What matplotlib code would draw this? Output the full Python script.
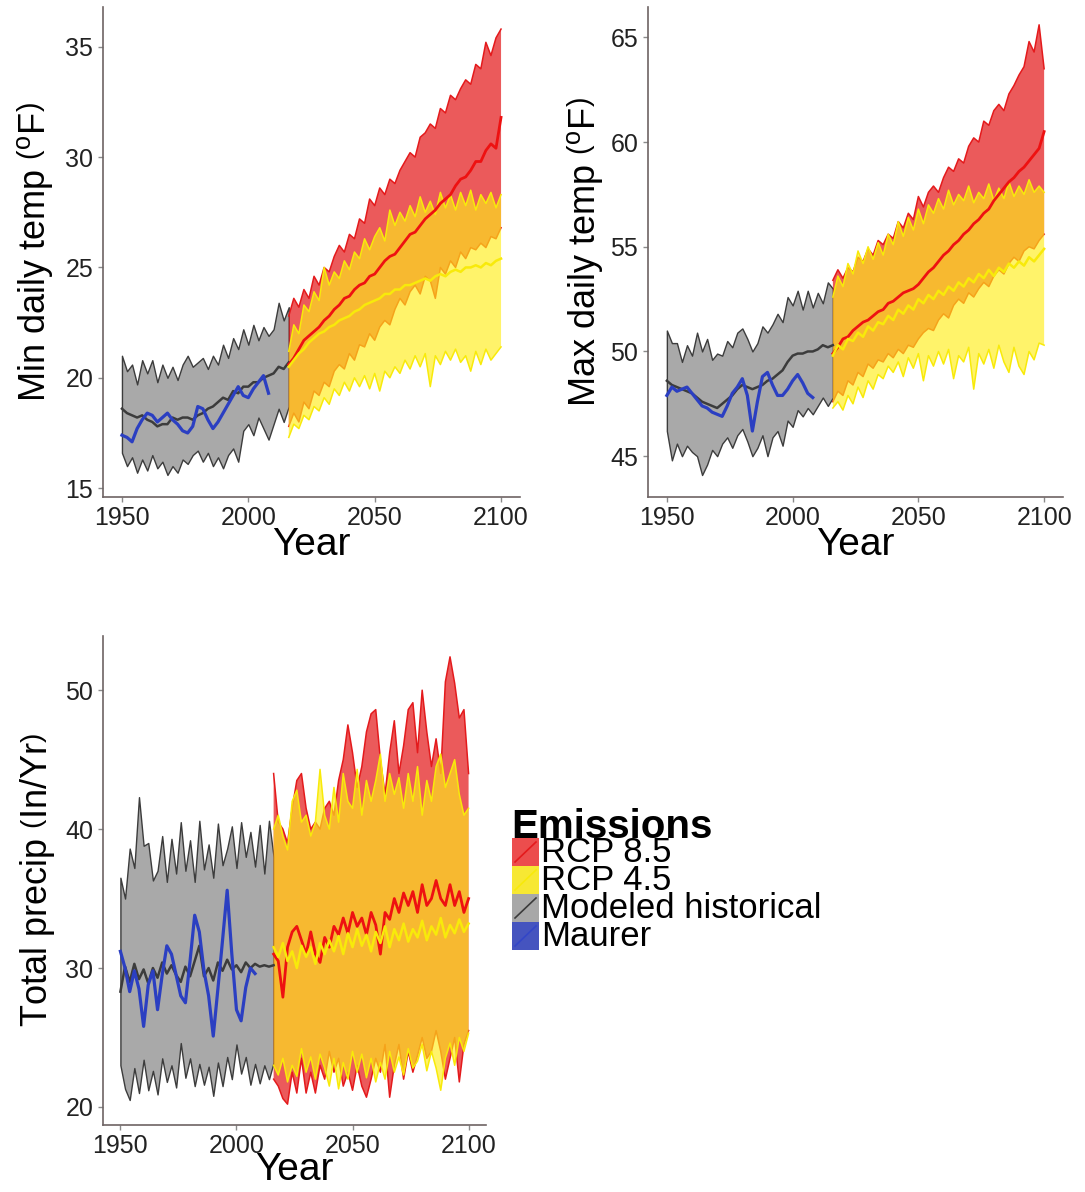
import matplotlib
matplotlib.use('Agg')
import matplotlib.pyplot as plt
import numpy as np
from matplotlib.patches import Rectangle
from matplotlib.lines import Line2D

plt.rcParams['font.family'] = ['Liberation Sans', 'DejaVu Sans']
plt.rcParams['mathtext.fontset'] = 'custom'
plt.rcParams['mathtext.rm'] = 'Liberation Sans'
plt.rcParams['mathtext.it'] = 'Liberation Sans:italic'
plt.rcParams['mathtext.bf'] = 'Liberation Sans:bold'

# ---------------- data ----------------
hist_years = list(range(1950, 2017, 2))
maurer_years = list(range(1950, 2009, 2))
fut_years = list(range(2016, 2101, 2))

# Min daily temp
tmin_hist_lo = [16.6, 16.0, 16.4, 15.7, 16.3, 15.8, 16.5, 15.9, 16.2, 15.6, 16.0, 15.7, 16.3, 16.1, 16.5, 16.7, 16.2,
                16.6, 16.0, 16.4, 15.9, 16.5, 16.8, 16.2, 17.6, 17.9, 17.4, 18.2, 17.7, 17.2, 17.9, 18.6, 18.0, 18.7]
tmin_hist_mid = [18.6, 18.4, 18.3, 18.2, 18.3, 18.1, 18.0, 17.8, 17.9, 17.9, 18.2, 18.1, 18.2, 18.2, 18.1, 18.3, 18.4,
                 18.6, 18.7, 18.9, 19.1, 19.0, 19.4, 19.3, 19.6, 19.6, 19.8, 19.8, 20.0, 20.1, 20.2, 20.5, 20.4, 20.7]
tmin_hist_hi = [21.0, 20.3, 20.6, 19.7, 20.8, 20.2, 20.8, 19.8, 20.6, 20.0, 20.5, 19.9, 20.6, 21.0, 20.5, 20.7, 20.9,
                20.4, 21.0, 20.6, 21.5, 20.9, 21.8, 21.3, 22.2, 21.5, 22.4, 21.7, 22.3, 21.9, 22.2, 23.4, 22.6, 23.2]
tmin_maurer = [17.4, 17.3, 17.1, 17.7, 18.1, 18.4, 18.3, 18.0, 18.2, 18.4, 18.1, 17.9, 17.6, 17.5, 17.8, 18.7, 18.6,
               18.1, 17.7, 18.0, 18.4, 18.8, 19.2, 19.6, 19.2, 19.1, 19.5, 19.8, 20.1, 19.3]
tmin_85_lo = [17.8, 18.4, 18.0, 18.9, 18.6, 19.4, 19.2, 19.8, 19.6, 20.3, 20.6, 20.4, 21.1, 20.8, 21.5, 21.4, 22.0,
              21.7, 22.3, 22.6, 22.4, 23.1, 23.6, 23.3, 23.9, 24.2, 23.8, 24.6, 24.4, 23.6, 25.0, 24.7, 25.3, 25.0,
              25.7, 25.4, 25.9, 25.8, 26.1, 25.9, 26.4, 26.3, 26.8]
tmin_85_mid = [20.6, 20.9, 21.3, 21.7, 21.9, 22.1, 22.3, 22.6, 22.8, 23.1, 23.3, 23.6, 23.7, 24.0, 24.2, 24.3, 24.6,
               24.7, 25.0, 25.3, 25.5, 25.6, 25.9, 26.2, 26.5, 26.6, 26.9, 27.2, 27.4, 27.6, 27.9, 28.1, 28.3, 28.7,
               29.0, 29.1, 29.4, 29.8, 29.8, 30.3, 30.6, 30.4, 31.8]
tmin_85_hi = [22.8, 23.6, 23.2, 24.0, 23.6, 24.6, 24.2, 25.0, 24.8, 25.5, 26.0, 25.7, 26.5, 26.3, 27.2, 27.0, 28.1,
              27.8, 28.6, 28.3, 29.0, 28.8, 29.4, 29.8, 30.2, 30.0, 30.9, 31.1, 31.5, 31.3, 32.2, 32.0, 32.8, 32.6,
              33.1, 33.5, 33.3, 34.2, 34.0, 35.2, 34.6, 35.4, 35.8]
tmin_45_lo = [17.3, 17.9, 17.7, 18.3, 18.1, 18.7, 18.5, 19.1, 18.8, 19.5, 19.2, 19.8, 19.4, 20.0, 19.6, 20.1, 19.5,
              20.2, 19.4, 20.3, 20.0, 20.5, 20.2, 20.8, 20.4, 21.0, 20.5, 21.1, 19.6, 21.0, 20.6, 21.2, 20.8, 21.3,
              20.7, 21.0, 20.3, 21.2, 20.6, 21.3, 20.8, 21.1, 21.4]
tmin_45_mid = [20.5, 20.8, 21.1, 21.3, 21.6, 21.8, 22.0, 22.1, 22.3, 22.4, 22.6, 22.7, 22.8, 23.0, 23.1, 23.3, 23.4,
               23.5, 23.6, 23.8, 23.8, 24.0, 24.0, 24.2, 24.2, 24.3, 24.4, 24.5, 24.4, 24.6, 24.7, 24.6, 24.8, 24.9,
               24.8, 25.0, 25.0, 25.1, 25.0, 25.2, 25.1, 25.3, 25.4]
tmin_45_hi = [21.2, 22.4, 22.0, 23.3, 23.0, 23.9, 23.5, 25.0, 24.2, 24.8, 24.5, 25.3, 24.9, 25.7, 25.4, 26.3, 25.8,
              26.4, 26.8, 26.2, 27.6, 26.9, 27.5, 27.1, 27.8, 27.3, 28.2, 27.5, 28.0, 27.4, 28.4, 27.7, 28.3, 27.6,
              28.4, 27.8, 28.5, 27.6, 28.3, 27.9, 28.4, 27.7, 28.3]

# Max daily temp
tmax_hist_lo = [46.2, 44.8, 45.6, 45.0, 45.5, 45.2, 45.0, 44.1, 44.6, 45.3, 45.0, 45.6, 45.9, 45.4, 46.0, 46.3, 45.7,
                45.0, 45.4, 46.0, 45.0, 45.9, 46.2, 45.5, 46.7, 46.4, 47.2, 46.9, 47.3, 47.0, 47.4, 47.8, 47.4, 47.8]
tmax_hist_mid = [48.6, 48.4, 48.3, 48.2, 48.1, 48.0, 47.8, 47.6, 47.5, 47.4, 47.3, 47.5, 47.7, 47.9, 48.2, 48.4, 48.3,
                 48.2, 48.3, 48.4, 48.6, 48.7, 48.9, 49.1, 49.5, 49.8, 49.9, 49.9, 50.0, 50.0, 50.1, 50.3, 50.2, 50.3]
tmax_hist_hi = [51.0, 50.4, 50.4, 49.5, 50.3, 49.8, 50.9, 50.0, 50.6, 49.6, 49.9, 49.8, 50.5, 50.2, 50.9, 51.1, 50.6,
                50.0, 50.4, 51.2, 50.9, 51.3, 51.8, 51.4, 52.6, 52.2, 52.9, 52.0, 52.9, 52.1, 52.8, 52.3, 53.3, 53.0]
tmax_maurer = [47.9, 48.3, 48.1, 48.2, 48.3, 48.0, 47.7, 47.4, 47.3, 47.1, 47.0, 46.9, 47.4, 48.0, 48.3, 48.7, 47.9,
               46.2, 47.6, 48.8, 49.0, 48.4, 47.9, 47.9, 48.2, 48.6, 48.9, 48.5, 48.0, 47.8]
tmax_85_lo = [47.6, 48.1, 47.9, 48.6, 48.4, 49.0, 48.8, 49.4, 49.2, 49.6, 49.5, 49.9, 49.7, 50.1, 49.9, 50.3, 50.2,
              50.6, 50.9, 51.1, 51.0, 51.5, 51.8, 51.6, 52.2, 52.5, 52.3, 52.8, 52.6, 53.0, 53.3, 53.1, 53.6, 53.9,
              53.7, 54.2, 54.5, 54.3, 54.8, 55.0, 54.9, 55.3, 55.6]
tmax_85_mid = [49.9, 50.2, 50.6, 50.7, 51.0, 51.2, 51.4, 51.5, 51.7, 51.9, 52.0, 52.3, 52.4, 52.6, 52.8, 52.9, 53.0,
               53.2, 53.5, 53.8, 54.0, 54.3, 54.6, 54.8, 55.1, 55.3, 55.6, 55.8, 56.1, 56.3, 56.6, 56.8, 57.2, 57.5,
               57.8, 58.1, 58.3, 58.6, 58.8, 59.1, 59.4, 59.7, 60.5]
tmax_85_hi = [53.4, 53.9, 53.5, 54.0, 53.8, 54.5, 54.3, 54.9, 54.6, 55.3, 55.1, 55.6, 55.4, 56.2, 55.9, 56.6, 56.3,
              57.4, 56.9, 57.6, 57.9, 57.6, 58.3, 58.8, 58.6, 59.2, 59.0, 59.8, 60.2, 60.0, 61.0, 60.8, 61.5, 61.8,
              61.5, 62.3, 62.7, 63.2, 63.6, 64.8, 64.3, 65.6, 63.5]
tmax_45_lo = [47.3, 47.6, 47.2, 47.9, 47.5, 48.3, 47.8, 48.6, 48.2, 48.9, 48.7, 49.3, 49.0, 49.5, 48.8, 49.7, 49.2,
              49.9, 48.6, 49.8, 49.3, 50.0, 49.4, 50.1, 48.7, 49.8, 49.5, 50.2, 48.2, 49.9, 49.4, 50.1, 49.2, 50.3,
              49.5, 49.0, 50.2, 49.3, 48.9, 50.0, 49.6, 50.4, 50.3]
tmax_45_mid = [49.8, 50.3, 50.1, 50.6, 50.5, 50.9, 50.7, 51.2, 51.0, 51.4, 51.3, 51.7, 51.5, 52.0, 51.8, 52.2, 52.0,
               52.5, 52.3, 52.7, 52.5, 52.9, 52.7, 53.1, 52.9, 53.3, 53.1, 53.5, 53.3, 53.7, 53.5, 53.9, 53.6, 54.0,
               53.8, 54.2, 54.0, 54.3, 54.1, 54.5, 54.3, 54.6, 54.9]
tmax_45_hi = [52.6, 53.6, 53.1, 54.2, 53.7, 54.8, 54.2, 55.0, 54.4, 55.2, 54.6, 55.6, 55.1, 56.2, 55.5, 56.4, 55.8,
              56.8, 56.1, 57.0, 56.6, 57.3, 56.8, 57.7, 57.0, 57.5, 57.2, 57.9, 57.1, 57.6, 57.3, 58.0, 57.2, 57.8,
              57.3, 58.1, 57.4, 57.9, 57.5, 58.2, 57.6, 57.9, 57.6]

# Total precip
pr_hist_lo = [23.0, 21.3, 20.5, 22.8, 21.0, 23.4, 21.2, 22.6, 20.9, 23.5, 21.8, 23.0, 21.4, 24.6, 22.1, 23.5, 21.5,
              23.1, 21.6, 22.9, 20.8, 23.2, 21.5, 23.6, 22.0, 24.5, 22.4, 23.6, 21.6, 23.1, 21.7, 23.0, 22.0, 23.2]
pr_hist_mid = [28.3, 30.1, 29.0, 30.3, 29.2, 29.9, 28.9, 30.0, 29.3, 30.4, 29.6, 30.2, 29.5, 29.0, 30.1, 29.4, 30.5,
               31.6, 29.4, 30.0, 29.1, 30.4, 29.8, 30.6, 29.9, 30.2, 29.7, 30.4, 30.0, 30.3, 30.1, 30.2, 30.1, 30.2]
pr_hist_hi = [36.5, 35.0, 38.6, 37.2, 42.3, 38.8, 39.0, 36.3, 37.0, 39.5, 36.2, 39.3, 36.8, 40.5, 37.0, 39.2, 36.2,
              40.6, 37.1, 38.9, 36.5, 40.4, 37.4, 38.6, 40.2, 37.2, 40.5, 38.0, 39.8, 37.3, 40.3, 36.8, 40.6, 38.0]
pr_maurer = [31.2, 30.0, 28.3, 29.8, 28.5, 25.8, 28.8, 29.8, 27.0, 29.5, 31.6, 31.0, 29.5, 28.0, 27.5, 30.5, 33.8,
             32.6, 29.8, 28.0, 25.1, 28.5, 32.0, 35.6, 31.0, 27.0, 26.2, 28.6, 30.0, 29.6]
pr_85_lo = [22.0, 21.5, 20.6, 20.2, 22.5, 21.0, 23.5, 21.0, 22.5, 21.0, 23.0, 22.0, 24.0, 22.5, 23.5, 21.5, 22.5,
            21.2, 23.0, 21.5, 20.7, 22.0, 23.5, 22.5, 24.5, 20.7, 23.0, 24.5, 22.0, 24.0, 22.5, 23.7, 25.0, 23.5,
            24.0, 25.5, 24.0, 22.0, 23.5, 25.0, 21.8, 24.5, 25.5]
pr_85_mid = [31.0, 30.5, 27.9, 31.5, 32.6, 33.0, 32.0, 31.0, 32.6, 31.0, 30.4, 32.2, 31.5, 33.0, 32.4, 33.6, 32.5,
             34.0, 33.0, 33.6, 32.4, 34.0, 33.1, 31.0, 34.0, 33.5, 35.0, 34.0, 35.4, 34.5, 35.5, 34.0, 36.0, 34.5,
             35.0, 36.3, 35.0, 34.5, 36.0, 34.5, 35.5, 34.0, 35.0]
pr_85_hi = [44.0, 40.5, 40.0, 39.0, 41.5, 43.5, 44.0, 41.5, 40.0, 40.5, 40.0, 41.5, 42.0, 41.0, 43.5, 45.0, 47.5,
            45.5, 43.0, 44.5, 47.0, 48.3, 48.6, 45.0, 42.5, 45.5, 47.8, 44.0, 46.0, 48.6, 49.1, 45.5, 50.0, 47.0,
            44.5, 46.5, 44.0, 50.6, 52.4, 50.5, 48.0, 48.6, 44.0]
pr_45_lo = [23.0, 22.3, 23.5, 21.8, 23.0, 22.2, 24.2, 22.5, 23.6, 22.0, 23.8, 22.8, 21.5, 23.5, 21.3, 23.2, 22.0,
            24.0, 22.5, 23.8, 22.1, 23.5, 21.8, 23.2, 22.0, 24.0, 22.5, 23.6, 22.3, 24.2, 22.8, 23.3, 24.5, 22.6,
            24.0, 22.8, 21.2, 23.5, 24.6, 23.0, 25.0, 24.0, 25.3]
pr_45_mid = [31.5, 30.8, 31.8, 30.5, 31.2, 30.0, 31.6, 30.8, 31.5, 30.3, 31.8, 31.0, 32.0, 31.2, 32.3, 31.0, 32.5,
             31.5, 32.8, 31.6, 32.4, 31.2, 32.6, 31.8, 33.0, 31.5, 32.8, 32.0, 33.2, 31.9, 32.8, 32.2, 33.4, 32.0,
             33.0, 32.4, 33.6, 32.2, 33.1, 32.5, 33.5, 32.6, 33.2]
pr_45_hi = [40.0, 41.0, 39.5, 38.5, 42.0, 42.8, 40.5, 41.0, 39.5, 40.5, 44.3, 41.0, 40.0, 43.0, 40.5, 44.0, 42.0,
            41.5, 44.3, 41.0, 43.5, 42.0, 43.5, 45.4, 42.0, 44.0, 42.5, 43.7, 41.5, 44.0, 42.0, 44.5, 41.0, 43.5,
            42.0, 44.5, 45.4, 43.0, 44.0, 45.0, 42.5, 41.0, 41.5]

x_ticks = [1950, 2000, 2050, 2100]
legend_labels = ['RCP 8.5', 'RCP 4.5', 'Modeled historical', 'Maurer']
legend_title = 'Emissions'

# ---------------- styling ----------------
W, H = 1085, 1192
RED = '#E41A1C'
YEL = '#FFED1A'
YEL_LINE = '#F8EA0A'
GRAY_FILL = '#A9A9A9'
GRAY_LINE = '#3C3C3C'
BLUE = '#2B3FC2'
SPINE = '#6E6464'

fig = plt.figure(figsize=(W / 100, H / 100), dpi=100)
fig.patch.set_facecolor('white')


def ax_at(l, r, t, b):
    return fig.add_axes([l / W, 1 - b / H, (r - l) / W, (b - t) / H])


def panel(ax, ylim, yticks, ylabel, ylab_x, xlab_y, d):
    (h_lo, h_mid, h_hi, maurer, r85_lo, r85_mid, r85_hi, r45_lo, r45_mid, r45_hi) = d
    ax.fill_between(hist_years, h_lo, h_hi, facecolor=GRAY_FILL, edgecolor=GRAY_LINE, linewidth=1.0, zorder=1)
    ax.fill_between(fut_years, r85_lo, r85_hi, facecolor=RED, alpha=0.72, edgecolor='none', zorder=2)
    ax.plot(fut_years, r85_hi, color=RED, lw=1.1, zorder=2.1)
    ax.plot(fut_years, r85_lo, color=RED, lw=1.1, zorder=2.1)
    ax.fill_between(fut_years, r45_lo, r45_hi, facecolor=YEL, alpha=0.65, edgecolor='none', zorder=3)
    ax.plot(fut_years, r45_hi, color=YEL_LINE, lw=1.1, zorder=3.1)
    ax.plot(fut_years, r45_lo, color=YEL_LINE, lw=1.1, zorder=3.1)
    ax.plot(hist_years, h_mid, color=GRAY_LINE, lw=1.8, zorder=4)
    ax.plot(maurer_years, maurer, color=BLUE, lw=2.3, zorder=5)
    ax.plot(fut_years, r85_mid, color='#EE1111', lw=2.0, zorder=5)
    ax.plot(fut_years, r45_mid, color=YEL_LINE, lw=1.8, zorder=5.1)

    ax.set_xlim(1942.5, 2107.5)
    ax.set_ylim(*ylim)
    ax.set_xticks(x_ticks)
    ax.set_yticks(yticks)
    for s in ['top', 'right']:
        ax.spines[s].set_visible(False)
    for s in ['left', 'bottom']:
        ax.spines[s].set_color(SPINE)
        ax.spines[s].set_linewidth(1.2)
    ax.tick_params(axis='both', direction='out', length=3.5, width=1, color='#8a8a8a',
                   labelsize=18, labelcolor='#222222')
    ax.tick_params(axis='x', pad=3)
    ax.tick_params(axis='y', pad=3.5)
    ax.set_xlabel('Year', fontsize=28, color='black')
    ax.xaxis.set_label_coords(0.5, xlab_y)
    ax.xaxis.label.set_va('center')
    ax.set_ylabel(ylabel, fontsize=26, color='black')
    ax.yaxis.set_label_coords(ylab_x, 0.5)
    ax.yaxis.label.set_va('center')
    ax.set_facecolor('white')


ax1 = ax_at(103, 520, 7, 497)
panel(ax1, (14.6, 36.8), [15, 20, 25, 30, 35], r'Min daily temp $\left(^{\mathrm{o}}\mathrm{F}\right)$',
      -0.163, -0.098,
      (tmin_hist_lo, tmin_hist_mid, tmin_hist_hi, tmin_maurer, tmin_85_lo, tmin_85_mid, tmin_85_hi,
       tmin_45_lo, tmin_45_mid, tmin_45_hi))

ax2 = ax_at(648, 1063, 7, 497)
panel(ax2, (43.05, 66.45), [45, 50, 55, 60, 65], r'Max daily temp $\left(^{\mathrm{o}}\mathrm{F}\right)$',
      -0.152, -0.098,
      (tmax_hist_lo, tmax_hist_mid, tmax_hist_hi, tmax_maurer, tmax_85_lo, tmax_85_mid, tmax_85_hi,
       tmax_45_lo, tmax_45_mid, tmax_45_hi))

ax3 = ax_at(103, 486, 636, 1125)
panel(ax3, (18.7, 53.9), [20, 30, 40, 50], r'Total precip $\left(\mathrm{In/Yr}\right)$',
      -0.172, -0.092,
      (pr_hist_lo, pr_hist_mid, pr_hist_hi, pr_maurer, pr_85_lo, pr_85_mid, pr_85_hi,
       pr_45_lo, pr_45_mid, pr_45_hi))

# ---------------- legend (drawn manually in figure pixels) ----------------
def fx(x):
    return x / W


def fy(y):
    return 1 - y / H


fig.text(fx(511), fy(838), legend_title, fontsize=29, fontweight='bold', ha='left', va='baseline')
key_fill = [(0.925, 0.30, 0.30), (0.97, 0.91, 0.20), (0.66, 0.66, 0.66), (0.27, 0.33, 0.75)]
key_line = [RED, YEL_LINE, GRAY_LINE, '#3346C8']
row_top = 838
row_h = 28
for i, lab in enumerate(legend_labels):
    t = row_top + i * row_h
    fig.add_artist(Rectangle((fx(512), fy(t + row_h)), (539 - 512) / W, row_h / H,
                             transform=fig.transFigure, facecolor=key_fill[i], edgecolor='none'))
    fig.add_artist(Line2D([fx(515), fx(536)], [fy(t + row_h - 4), fy(t + 4)], transform=fig.transFigure,
                          color=key_line[i], lw=1.2))
    fig.text(fx(541), fy(t + row_h / 2), lab, fontsize=25, ha='left', va='center')

fig.savefig('out.png', dpi=100, facecolor='white')
